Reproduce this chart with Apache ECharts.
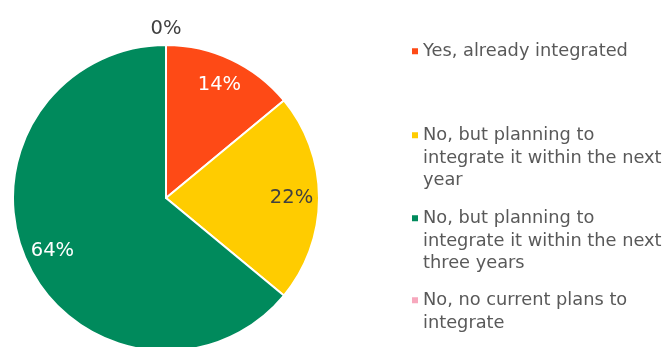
<!DOCTYPE html>
<html>
<head>
<meta charset="utf-8">
<script src="https://cdn.jsdelivr.net/npm/echarts@6/dist/echarts.min.js"></script>
<style>html,body{margin:0;padding:0;background:#fff;}#c{width:665px;height:347px;}</style>
</head>
<body>
<div id="c"></div>
<script>
const categories = [
  'Yes, already integrated',
  'No, but planning to integrate it within the next year',
  'No, but planning to integrate it within the next three years',
  'No, no current plans to integrate'
];
const legendLines = [
  ['Yes, already integrated'],
  ['No, but planning to', 'integrate it within the next', 'year'],
  ['No, but planning to', 'integrate it within the next', 'three years'],
  ['No, no current plans to', 'integrate']
];
const values = [14, 22, 64, 0];
const colors = ['#FE4A16', '#FFCC00', '#008A5C', '#F7A8BD'];
const labelColors = ['#ffffff', '#404040', '#ffffff', '#404040'];

const FONT = '"DejaVu Sans", sans-serif';
const LH = 22.7;
const legendTops = [40, 124, 207, 289];

const chart = echarts.init(document.getElementById('c'), null, {renderer: 'canvas'});

const legends = categories.map((name, i) => {
  const n = legendLines[i].length;
  const h = n * LH;
  const sq = 6;
  const y0 = LH / 2 - sq / 2;
  const icon = 'path://M0 0L6 0M0 ' + y0 + 'L6 ' + y0 + 'L6 ' + (y0 + sq) + 'L0 ' + (y0 + sq) + 'ZM0 ' + h + 'L6 ' + h;
  return {
    data: [name],
    left: 412,
    top: legendTops[i],
    orient: 'vertical',
    padding: 0,
    itemWidth: 6,
    itemHeight: h,
    symbolKeepAspect: false,
    icon: icon,
    itemStyle: {borderWidth: 0},
    selectedMode: false,
    formatter: () => legendLines[i].join('\n'),
    textStyle: {fontFamily: FONT, fontSize: 17.8, color: '#595959', lineHeight: LH, padding: [0, 0, 0, 0]}
  };
});

chart.setOption({
  animation: false,
  color: colors,
  legend: legends,
  series: [
    {
      type: 'pie',
      center: [166, 198],
      radius: [0, 153],
      startAngle: 90,
      clockwise: true,
      label: {show: false},
      labelLine: {show: false},
      itemStyle: {borderColor: '#ffffff', borderWidth: 2},
      emphasis: {disabled: true},
      data: categories.map((name, i) => ({name: name, value: values[i]}))
    },
    {
      type: 'pie',
      center: [166, 198],
      radius: [92, 153],
      startAngle: 90,
      clockwise: true,
      silent: true,
      itemStyle: {color: 'transparent', borderWidth: 0},
      labelLine: {show: false},
      emphasis: {disabled: true},
      label: {show: true, position: 'inside', formatter: '{c}%', fontFamily: FONT, fontSize: 19.5},
      data: categories.map((name, i) => ({
        name: name,
        value: values[i],
        label: Object.assign({color: labelColors[i]}, values[i] === 0 ? {offset: [0, -44]} : {})
      }))
    }
  ]
});
</script>
</body>
</html>
